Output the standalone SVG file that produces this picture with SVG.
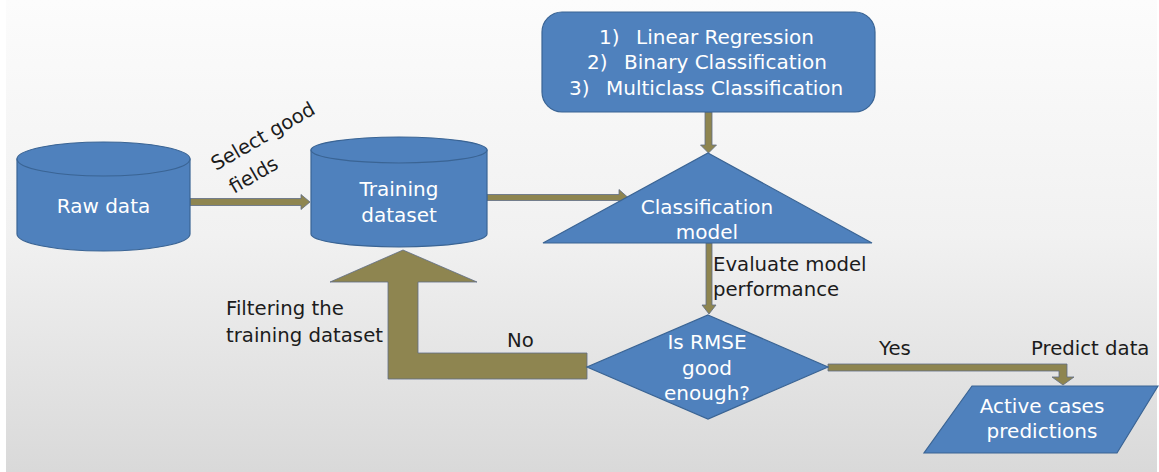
<svg xmlns="http://www.w3.org/2000/svg" width="1159" height="472" viewBox="0 0 1159 472">
  <defs>
    <linearGradient id="bg" x1="0" y1="0" x2="0" y2="1">
      <stop offset="0" stop-color="#fcfcfc"/>
      <stop offset="0.5" stop-color="#f1f1f1"/>
      <stop offset="1" stop-color="#d9d9d9"/>
    </linearGradient>
    <style>
      .shape { fill: #4f81bd; stroke: #3a6494; stroke-width: 1.2; }
      .arrow { fill: #8e8550; stroke: #5f6d86; stroke-width: 0.8; }
      .wt { fill: #ffffff; font-family: "DejaVu Sans", "Open Sans", sans-serif; font-size: 20px; text-anchor: middle; }
      .lt { fill: #ffffff; font-family: "DejaVu Sans", "Open Sans", sans-serif; font-size: 20px; }
      .bt { fill: #1c1c1c; font-family: "DejaVu Sans", "Open Sans", sans-serif; font-size: 19.7px; }
    </style>
  </defs>
  <rect x="0" y="0" width="1159" height="472" fill="#ffffff"/>
  <rect x="6" y="0" width="1151" height="472" fill="url(#bg)"/>

  <g id="connectors">
    <path class="arrow" d="M190,198.5 L301,198.5 L301,194.5 L310,202 L301,209.5 L301,205.5 L190,205.5 Z"/>
    <path class="arrow" d="M487,194.5 L619,194.5 L619,189.5 L628,197.5 L619,205.5 L619,200.5 L487,200.5 Z"/>
    <path class="arrow" d="M705,112 L712,112 L712,145 L716.5,145 L708.5,153 L700.5,145 L705,145 Z"/>
    <path class="arrow" d="M706,243 L712,243 L712,305 L716,305 L709,314 L702,305 L706,305 Z"/>
    <path class="arrow" d="M828,364 L1067,364 L1067,377 L1074,377 L1063,385 L1052,377 L1059,377 L1059,371 L828,371 Z"/>
    <path class="arrow" d="M403,250 L477,282 L418,282 L418,353 L587,353 L587,379 L388,379 L388,282 L330,282 Z"/>
    <text class="bt" font-size="19.3" transform="translate(216,171) rotate(-30)">Select good</text>
    <text class="bt" font-size="19.3" transform="translate(234,194) rotate(-30)">fields</text>
    <text class="bt" x="713" y="271">Evaluate model</text>
    <text class="bt" x="713" y="296">performance</text>
    <text class="bt" x="226" y="315">Filtering the</text>
    <text class="bt" x="226" y="342">training dataset</text>
    <text class="bt" x="507" y="347">No</text>
    <text class="bt" x="879" y="355">Yes</text>
    <text class="bt" x="1031" y="355">Predict data</text>
  </g>

  <g id="raw-data">
    <path class="shape" d="M17,159 L17,234 A86.5,17 0 0 0 190,234 L190,159 Z"/>
    <ellipse class="shape" cx="103.5" cy="159" rx="86.5" ry="17"/>
    <text class="wt" x="103.5" y="213">Raw data</text>
  </g>

  <g id="training-dataset">
    <path class="shape" d="M311,150 L311,234 A88,13 0 0 0 487,234 L487,150 Z"/>
    <ellipse class="shape" cx="399" cy="150" rx="88" ry="13"/>
    <text class="wt" x="399" y="196">Training</text>
    <text class="wt" x="399" y="222">dataset</text>
  </g>

  <g id="algorithms">
    <rect class="shape" x="542" y="12" width="333" height="100" rx="20" ry="20"/>
    <text class="lt" x="599" y="44">1)</text>
    <text class="lt" x="636" y="44">Linear Regression</text>
    <text class="lt" x="587" y="69">2)</text>
    <text class="lt" x="624" y="69">Binary Classification</text>
    <text class="lt" x="569" y="95">3)</text>
    <text class="lt" x="606" y="95">Multiclass Classification</text>
  </g>

  <g id="classification-model">
    <polygon class="shape" points="708,153 872,243 543,243"/>
    <text class="wt" x="707" y="214">Classification</text>
    <text class="wt" x="707" y="239">model</text>
  </g>

  <g id="rmse-decision">
    <polygon class="shape" points="708,315 828,367 708,419 587,367"/>
    <text class="wt" x="707" y="349">Is RMSE</text>
    <text class="wt" x="707" y="375">good</text>
    <text class="wt" x="707" y="400">enough?</text>
  </g>

  <g id="predictions">
    <polygon class="shape" points="972,386 1158,386 1117,453 924,453"/>
    <text class="wt" x="1042" y="413">Active cases</text>
    <text class="wt" x="1042" y="438">predictions</text>
  </g>
</svg>
